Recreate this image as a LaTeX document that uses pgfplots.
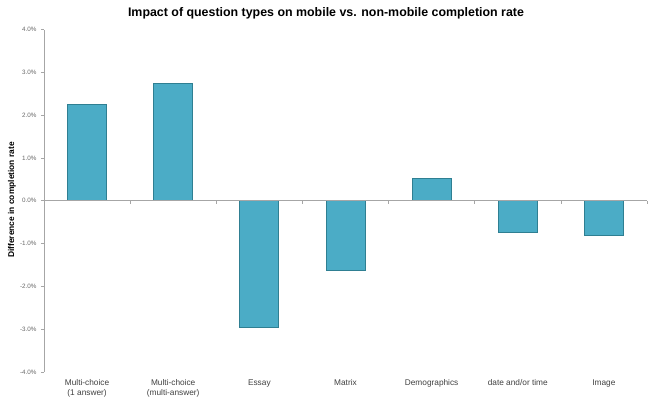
\documentclass[border=0pt]{standalone}
\usepackage{pgfplots}
\pgfplotsset{compat=1.18}
\usepackage{fontspec}
\setmainfont{Liberation Sans}
\definecolor{barfill}{HTML}{4BACC6}
\definecolor{bardraw}{HTML}{2F7F92}
\definecolor{axgray}{HTML}{A6A6A6}
\definecolor{txtgray}{HTML}{404040}
\begin{document}
\begin{tikzpicture}
\useasboundingbox (-44pt,-28pt) rectangle (609pt,372pt);
\begin{axis}[
  at={(0,0)}, anchor=south west,
  width=603pt, height=342.5pt, scale only axis,
  xmin=-0.5, xmax=6.5, ymin=-4, ymax=4,
  axis line style={draw=none},
  ytick={-4,-3,...,4},
  yticklabel={\pgfmathprintnumber[fixed,fixed zerofill,precision=1]{\tick}\%},
  /pgf/number format/assume math mode=true,
  ytick pos=left, tick align=outside,
  major tick length=3pt,
  ytick style={axgray, line width=0.6pt},
  xtick={0,...,6},
  xtick style={draw=none},
  xticklabels={{Multi-choice\\(1 answer)},{Multi-choice\\(multi-answer)},Essay,Matrix,Demographics,date and/or time,Image},
  x tick label style={align=center, font=\fontsize{8.3}{10}\selectfont, text=txtgray, yshift=-1pt},
  y tick label style={font=\fontsize{6.3}{7}\selectfont, text=txtgray!80, xshift=-1pt},
  ybar, bar width=39pt,
  clip=false,
]
\addplot[fill=barfill, draw=bardraw, line width=0.9pt] coordinates {
  (0,2.25) (1,2.75) (2,-2.95) (3,-1.62) (4,0.52) (5,-0.74) (6,-0.82)
};
\draw[axgray, line width=0.6pt] (axis cs:-0.5,-4) -- (axis cs:-0.5,4);
\draw[axgray, line width=0.6pt] (axis cs:-0.5,0) -- (axis cs:6.5,0);
\pgfplotsinvokeforeach{0.5,1.5,2.5,3.5,4.5,5.5,6.5}{
  \draw[axgray, line width=0.6pt] (axis cs:#1,0) -- ([yshift=-3pt]axis cs:#1,0);
}
\end{axis}
\node[rotate=90, font=\bfseries\fontsize{8.4}{10}\selectfont, text=black] at (-32pt,172pt) {Difference in completion rate};
\node[font=\bfseries\fontsize{12.4}{14}\selectfont, text=black] at (282pt,359pt) {Impact of question types on mobile vs. non-mobile completion rate};
\end{tikzpicture}
\end{document}
